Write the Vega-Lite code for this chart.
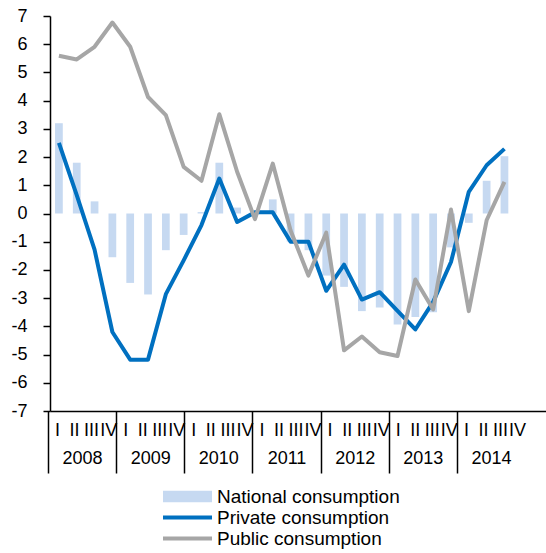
{
  "$schema": "https://vega.github.io/schema/vega-lite/v6.json",
  "width": 499,
  "height": 395,
  "autosize": "none",
  "padding": {"left": 50, "top": 16, "right": 0, "bottom": 142},
  "config": {
    "view": {"stroke": null},
    "font": "Liberation Sans",
    "axis": {"labelFont": "Liberation Sans", "labelColor": "black", "domainColor": "black", "tickColor": "black", "grid": false, "labelOverlap": false}
  },
  "datasets": {
    "cons": [
      {"q": "2008 I", "National consumption": 3.2, "Private consumption": 2.5, "Public consumption": 5.59},
      {"q": "2008 II", "National consumption": 1.8, "Private consumption": 0.65, "Public consumption": 5.46},
      {"q": "2008 III", "National consumption": 0.43, "Private consumption": -1.28, "Public consumption": 5.91},
      {"q": "2008 IV", "National consumption": -1.55, "Private consumption": -4.2, "Public consumption": 6.77},
      {"q": "2009 I", "National consumption": -2.46, "Private consumption": -5.18, "Public consumption": 5.91},
      {"q": "2009 II", "National consumption": -2.87, "Private consumption": -5.18, "Public consumption": 4.13},
      {"q": "2009 III", "National consumption": -1.3, "Private consumption": -2.86, "Public consumption": 3.49},
      {"q": "2009 IV", "National consumption": -0.76, "Private consumption": -1.66, "Public consumption": 1.65},
      {"q": "2010 I", "National consumption": 0.05, "Private consumption": -0.41, "Public consumption": 1.16},
      {"q": "2010 II", "National consumption": 1.8, "Private consumption": 1.24, "Public consumption": 3.52},
      {"q": "2010 III", "National consumption": 0.21, "Private consumption": -0.3, "Public consumption": 1.48},
      {"q": "2010 IV", "National consumption": 0.1, "Private consumption": 0.04, "Public consumption": -0.2},
      {"q": "2011 I", "National consumption": 0.5, "Private consumption": 0.04, "Public consumption": 1.77},
      {"q": "2011 II", "National consumption": -1.0, "Private consumption": -1.0, "Public consumption": -0.6},
      {"q": "2011 III", "National consumption": -1.3, "Private consumption": -1.0, "Public consumption": -2.2},
      {"q": "2011 IV", "National consumption": -2.2, "Private consumption": -2.74, "Public consumption": -0.68},
      {"q": "2012 I", "National consumption": -2.6, "Private consumption": -1.81, "Public consumption": -4.85},
      {"q": "2012 II", "National consumption": -3.46, "Private consumption": -3.05, "Public consumption": -4.36},
      {"q": "2012 III", "National consumption": -3.33, "Private consumption": -2.79, "Public consumption": -4.92},
      {"q": "2012 IV", "National consumption": -3.93, "Private consumption": -3.45, "Public consumption": -5.05},
      {"q": "2013 I", "National consumption": -3.67, "Private consumption": -4.11, "Public consumption": -2.34},
      {"q": "2013 II", "National consumption": -3.5, "Private consumption": -3.13, "Public consumption": -3.4},
      {"q": "2013 III", "National consumption": -1.2, "Private consumption": -1.72, "Public consumption": 0.14},
      {"q": "2013 IV", "National consumption": -0.33, "Private consumption": 0.77, "Public consumption": -3.46},
      {"q": "2014 I", "National consumption": 1.16, "Private consumption": 1.71, "Public consumption": -0.24},
      {"q": "2014 II", "National consumption": 2.03, "Private consumption": 2.29, "Public consumption": 1.12}
    ],
    "quarters": [
      {"q": "2008 I"}, {"q": "2008 II"}, {"q": "2008 III"}, {"q": "2008 IV"},
      {"q": "2009 I"}, {"q": "2009 II"}, {"q": "2009 III"}, {"q": "2009 IV"},
      {"q": "2010 I"}, {"q": "2010 II"}, {"q": "2010 III"}, {"q": "2010 IV"},
      {"q": "2011 I"}, {"q": "2011 II"}, {"q": "2011 III"}, {"q": "2011 IV"},
      {"q": "2012 I"}, {"q": "2012 II"}, {"q": "2012 III"}, {"q": "2012 IV"},
      {"q": "2013 I"}, {"q": "2013 II"}, {"q": "2013 III"}, {"q": "2013 IV"},
      {"q": "2014 I"}, {"q": "2014 II"}, {"q": "2014 III"}, {"q": "2014 IV"}
    ],
    "years": [
      {"year": "2008"}, {"year": "2009"}, {"year": "2010"}, {"year": "2011"},
      {"year": "2012"}, {"year": "2013"}, {"year": "2014"}
    ]
  },
  "layer": [
    {
      "data": {"name": "cons"},
      "transform": [{"fold": ["National consumption", "Private consumption", "Public consumption"], "as": ["series", "val"]}],
      "encoding": {
        "x": {
          "field": "q", "type": "ordinal", "sort": null,
          "scale": {
            "type": "band",
            "domain": ["2008 I","2008 II","2008 III","2008 IV","2009 I","2009 II","2009 III","2009 IV","2010 I","2010 II","2010 III","2010 IV","2011 I","2011 II","2011 III","2011 IV","2012 I","2012 II","2012 III","2012 IV","2013 I","2013 II","2013 III","2013 IV","2014 I","2014 II","2014 III","2014 IV"],
            "paddingInner": 0.566, "paddingOuter": 0.283
          },
          "axis": {"orient": "bottom", "labels": false, "ticks": false, "title": null, "domain": true, "domainWidth": 1.5}
        },
        "y": {
          "field": "val", "type": "quantitative",
          "scale": {"domain": [-7, 7], "nice": false},
          "axis": {"title": null, "values": [-7,-6,-5,-4,-3,-2,-1,0,1,2,3,4,5,6,7], "tickSize": 7, "tickWidth": 1.5, "domainWidth": 1.5, "labelFontSize": 18, "labelPadding": 16, "labelOverlap": false, "labelExpr": "(datum.value < 0 ? '-' : '') + abs(datum.value)"}
        },
        "color": {
          "field": "series", "type": "nominal",
          "scale": {"domain": ["National consumption", "Private consumption", "Public consumption"], "range": ["#C6D9F1", "#0070C0", "#A6A6A6"]},
          "legend": {
            "orient": "none", "legendX": 113, "legendY": 470, "direction": "vertical", "columns": 1, "title": null,
            "symbolSize": 2401, "symbolStrokeWidth": 0, "clipHeight": 21,
            "labelFontSize": 19, "labelFont": "Liberation Sans", "labelColor": "black", "labelOffset": 5, "labelLimit": 400,
            "rowPadding": 0, "padding": 0,
            "encode": {"symbols": {"update": {
              "shape": {"signal": "datum.value === 'National consumption' ? 'M-1,-0.23H1V0.23H-1Z' : 'M-1,-0.085H1V0.085H-1Z'"},
              "fill": {"scale": "color", "field": "value"},
              "stroke": {"value": "transparent"},
              "opacity": {"value": 1}
            }}}
          }
        }
      },
      "layer": [
        {
          "transform": [{"filter": "datum.series === 'National consumption'"}],
          "mark": {"type": "bar"}
        },
        {
          "transform": [{"filter": "datum.series !== 'National consumption'"}],
          "mark": {"type": "line", "strokeWidth": 4, "strokeJoin": "round"}
        }
      ]
    },
    {
      "data": {"name": "quarters"},
      "mark": {"type": "tick", "opacity": 0},
      "encoding": {
        "x": {
          "field": "q", "type": "ordinal", "sort": null,
          "scale": {"type": "band", "range": [-1, 476], "paddingInner": 0, "paddingOuter": 0},
          "axis": {"orient": "bottom", "title": null, "domain": false, "ticks": false, "labelPadding": 10, "labelFontSize": 18, "labelAngle": 0, "labelOverlap": false, "labelExpr": "split(datum.value, ' ')[1]"}
        }
      }
    },
    {
      "data": {"name": "years"},
      "mark": {"type": "tick", "opacity": 0},
      "encoding": {
        "x": {
          "field": "year", "type": "ordinal", "sort": null,
          "scale": {"type": "band", "range": [-1.5, 475.5], "paddingInner": 0, "paddingOuter": 0},
          "axis": {"orient": "bottom", "title": null, "domain": false, "ticks": true, "tickSize": 62, "tickWidth": 1.5, "bandPosition": 0, "labelPadding": -24, "labelFontSize": 18, "labelAngle": 0, "labelOverlap": false}
        }
      }
    }
  ],
  "resolve": {"scale": {"x": "independent"}, "axis": {"x": "independent"}}
}
